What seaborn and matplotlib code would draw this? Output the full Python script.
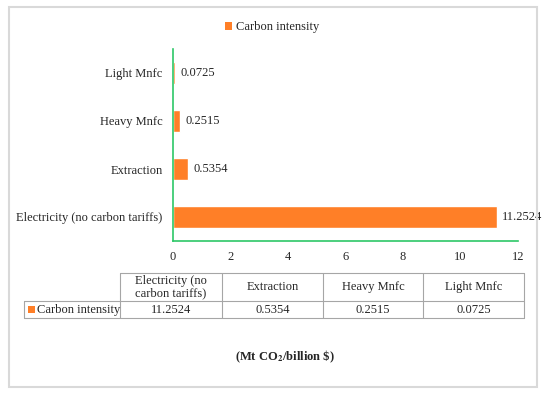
import matplotlib
matplotlib.use("Agg")
import matplotlib.pyplot as plt
import seaborn as sns
import pandas as pd
from matplotlib.patches import Rectangle, Patch
from matplotlib.lines import Line2D

categories = ["Light Mnfc", "Heavy Mnfc", "Extraction", "Electricity (no carbon tariffs)"]
values = [0.0725, 0.2515, 0.5354, 11.2524]
value_labels = ["0.0725", "0.2515", "0.5354", "11.2524"]
table_columns = ["Electricity (no\ncarbon tariffs)", "Extraction", "Heavy Mnfc", "Light Mnfc"]
table_values = ["11.2524", "0.5354", "0.2515", "0.0725"]
series_name = "Carbon intensity"
x_ticks = [0, 2, 4, 6, 8, 10, 12]
unit_label = r"(Mt CO$_\mathbf{2}$/billion \$)"

ORANGE = "#FF7F27"
GREEN = "#2DC767"
GRID = "#A6A6A6"

sns.set_style("white")
plt.rcParams["font.family"] = ["Liberation Serif", "DejaVu Serif"]
plt.rcParams["mathtext.fontset"] = "stix"

W, H = 550, 395
fig = plt.figure(figsize=(5.5, 3.95), dpi=100)

def fx(px):
    return px / W

def fy(py):
    return 1 - py / H

# outer frame
fig.add_artist(Rectangle((fx(9), fy(387)), fx(528), 380 / H, transform=fig.transFigure,
                         fill=False, edgecolor="#D9D9D9", linewidth=1.5))

ax = fig.add_axes([fx(173), fy(241), fx(345), (241 - 49) / H])
df = pd.DataFrame({"cat": categories, "val": values})
sns.barplot(data=df, y="cat", x="val", order=categories, orient="h", color=ORANGE,
            saturation=1, width=0.44, ax=ax)
ax.set_xlim(0, 12)
ax.set_xticks(x_ticks)
ax.set_xticklabels([str(t) for t in x_ticks])
ax.set_xlabel("")
ax.set_ylabel("")
for s in ["top", "right"]:
    ax.spines[s].set_visible(False)
for s in ["left", "bottom"]:
    ax.spines[s].set_color(GREEN)
    ax.spines[s].set_linewidth(1.2)
ax.tick_params(axis="x", direction="in", length=3, color=GREEN, labelsize=9, pad=7)
ax.tick_params(axis="y", length=0, labelsize=9, pad=7.5)

for i, (v, lab) in enumerate(zip(values, value_labels)):
    ax.annotate(lab, xy=(v, i), xytext=(4, 0), textcoords="offset points",
                va="center", ha="left", fontsize=9)

# legend
fig.legend(handles=[Patch(facecolor=ORANGE, edgecolor="none", label=series_name)],
           loc="center", bbox_to_anchor=(fx(272), fy(27)), frameon=False,
           fontsize=9, handlelength=0.6, handleheight=0.6, handletextpad=0.3)

# data table
col_edges = [120, 222, 323, 423, 524]
row_top, row_mid, row_bot = 273, 301, 318
left_cell = 24
lw = 0.8
def hline(x0, x1, y):
    fig.add_artist(Line2D([fx(x0), fx(x1)], [fy(y), fy(y)], transform=fig.transFigure,
                          color=GRID, linewidth=lw))
def vline(x, y0, y1):
    fig.add_artist(Line2D([fx(x), fx(x)], [fy(y0), fy(y1)], transform=fig.transFigure,
                          color=GRID, linewidth=lw))

hline(col_edges[0], col_edges[-1], row_top)
hline(left_cell, col_edges[-1], row_mid)
hline(left_cell, col_edges[-1], row_bot)
for x in col_edges:
    vline(x, row_top, row_bot)
vline(left_cell, row_mid, row_bot)

for j, (name, val) in enumerate(zip(table_columns, table_values)):
    cx = (col_edges[j] + col_edges[j + 1]) / 2
    fig.text(fx(cx), fy((row_top + row_mid) / 2), name, ha="center", va="center",
             fontsize=9, linespacing=1.0)
    fig.text(fx(cx), fy((row_mid + row_bot) / 2 + 0.5), val, ha="center", va="center",
             fontsize=9)

fig.add_artist(Rectangle((fx(28), fy(313)), fx(7), 7 / H, transform=fig.transFigure,
                         facecolor=ORANGE, edgecolor="none"))
fig.text(fx(37), fy((row_mid + row_bot) / 2 + 0.5), series_name, ha="left", va="center",
         fontsize=9)

fig.text(fx(285), fy(357), unit_label, ha="center", va="center", fontsize=9,
         fontweight="bold")

fig.savefig("out.png", dpi=100)
